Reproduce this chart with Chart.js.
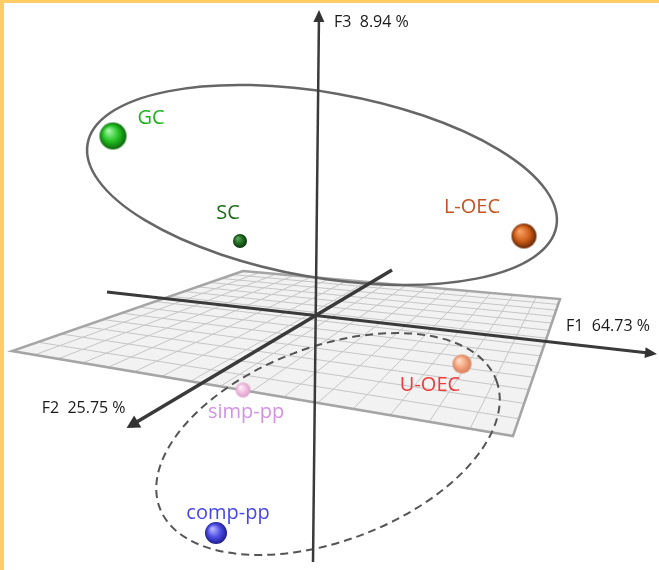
<!DOCTYPE html>
<html>
<head>
<meta charset="utf-8">
<script src="https://cdn.jsdelivr.net/npm/chart.js@4.4.1/dist/chart.umd.min.js"></script>
<style>
  html, body { margin: 0; padding: 0; background: #fff; }
  #wrap { position: relative; width: 659px; height: 570px; }
  #frame { position: absolute; left: 0; top: 0; right: 0; bottom: 0; border-top: 3px solid #ffcc66; border-left: 4px solid #ffcc66; pointer-events: none; }
</style>
</head>
<body>
<div id="wrap">
  <canvas id="acp" width="659" height="570"></canvas>
  <div id="frame"></div>
</div>
<script>
// groups and their coordinates on the projected factor map
const groupes = ['GC', 'SC', 'L-OEC', 'U-OEC', 'simp-pp', 'comp-pp'];
const coordX = [-20.2, -7.5, 20.9, 14.7, -7.2, -9.9];
const coordY = [17.7, 7.2, 7.7, -5.1, -7.7, -22.0];

// factor axes and their share of inertia
const axes = ['F1', 'F2', 'F3'];
const inertie = [64.73, 25.75, 8.94];

// --- drawing geometry / styles ---
const axeDebut = [[-20.8, 2.1], [7.7, 4.3], [-0.2, -24.9]];
const axeFin = [[33.8, -4.05], [-18.5, -11.3], [0.4, 29.9]];
const axeLargeur = [3, 3.5, 2.5];
const plan = [[-7.2, 4.2], [24.5, 1.4], [19.8, -12.3], [-30.3, -3.8]]; // F1-F2 plane corners
const ellipses = [
  { cx: 0.7, cy: 12.8, rx: 23.8, ry: 9.25, rot: 10, dash: [] },
  { cx: 1.3, cy: -13.1, rx: 18.0, ry: 9.7, rot: -20.8, dash: [8, 5] }
];

const raios = [13.5, 7, 12.5, 9.5, 7.5, 11];
const coresEsfera = [
  ['#a8f7a8', '#22c022', '#0b5e0b'],
  ['#5fa55f', '#1f6a1f', '#0b300b'],
  ['#f7a468', '#d2601a', '#5c2204'],
  ['#ffe2ce', '#f3a47c', '#d2785a'],
  ['#fff2f9', '#f2bde0', '#d99cc6'],
  ['#b8b8ff', '#4b4be4', '#1a1a88']
];
const coresTexto = ['#1fb41f', '#1c6b1c', '#c5531e', '#f23a3a', '#d591e8', '#4747e8'];
const deslocTexto = [[38, -18], [-12, -28], [-52, -29], [-32, 21], [3, 22], [12, -20]];

function esfera(r, c) {
  const cv = document.createElement('canvas');
  const s = Math.ceil(2 * r + 2);
  cv.width = s; cv.height = s;
  const g = cv.getContext('2d');
  const m = s / 2;
  const grad = g.createRadialGradient(m - r * 0.35, m - r * 0.4, r * 0.05, m, m, r * 1.05);
  grad.addColorStop(0, c[0]);
  grad.addColorStop(0.55, c[1]);
  grad.addColorStop(1, c[2]);
  g.fillStyle = grad;
  g.beginPath();
  g.arc(m, m, r, 0, Math.PI * 2);
  g.fill();
  return cv;
}

function pix(chart, p) {
  return [chart.scales.x.getPixelForValue(p[0]), chart.scales.y.getPixelForValue(p[1])];
}

// square -> quad projective mapping, so the grid gets perspective spacing
function homografia(q) {
  const [x0, y0] = q[0], [x1, y1] = q[1], [x2, y2] = q[2], [x3, y3] = q[3];
  const dx1 = x1 - x2, dx2 = x3 - x2, dx3 = x0 - x1 + x2 - x3;
  const dy1 = y1 - y2, dy2 = y3 - y2, dy3 = y0 - y1 + y2 - y3;
  const den = dx1 * dy2 - dx2 * dy1;
  const g = (dx3 * dy2 - dx2 * dy3) / den;
  const h = (dx1 * dy3 - dx3 * dy1) / den;
  const a = x1 - x0 + g * x1, b = x3 - x0 + h * x3;
  const d = y1 - y0 + g * y1, e = y3 - y0 + h * y3;
  return (u, v) => {
    const w = g * u + h * v + 1;
    return [(a * u + b * v + x0) / w, (d * u + e * v + y0) / w];
  };
}

const fundo = {
  id: 'fundo',
  beforeDatasetsDraw(chart) {
    const ctx = chart.ctx;
    const q = plan.map(p => pix(chart, p));
    const H = homografia(q);
    ctx.save();
    // plane
    ctx.beginPath();
    q.forEach((p, i) => i ? ctx.lineTo(p[0], p[1]) : ctx.moveTo(p[0], p[1]));
    ctx.closePath();
    ctx.fillStyle = '#f2f2f2';
    ctx.fill();
    ctx.strokeStyle = '#c6c6c6';
    ctx.lineWidth = 1;
    const nc = 16, nl = 14;
    for (let i = 1; i < nc; i++) {
      const a = H(i / nc, 0), b = H(i / nc, 1);
      ctx.beginPath(); ctx.moveTo(a[0], a[1]); ctx.lineTo(b[0], b[1]); ctx.stroke();
    }
    for (let j = 1; j < nl; j++) {
      const a = H(0, j / nl), b = H(1, j / nl);
      ctx.beginPath(); ctx.moveTo(a[0], a[1]); ctx.lineTo(b[0], b[1]); ctx.stroke();
    }
    ctx.beginPath();
    q.forEach((p, i) => i ? ctx.lineTo(p[0], p[1]) : ctx.moveTo(p[0], p[1]));
    ctx.closePath();
    ctx.strokeStyle = '#a5a5a5';
    ctx.lineWidth = 2.5;
    ctx.stroke();

    // group outlines
    const sx = Math.abs(chart.scales.x.getPixelForValue(1) - chart.scales.x.getPixelForValue(0));
    const sy = Math.abs(chart.scales.y.getPixelForValue(1) - chart.scales.y.getPixelForValue(0));
    ellipses.forEach(el => {
      const c = pix(chart, [el.cx, el.cy]);
      ctx.beginPath();
      ctx.ellipse(c[0], c[1], el.rx * sx, el.ry * sy, el.rot * Math.PI / 180, 0, Math.PI * 2);
      ctx.setLineDash(el.dash);
      ctx.strokeStyle = el.dash.length ? '#555' : '#666';
      ctx.lineWidth = el.dash.length ? 2 : 2.5;
      ctx.stroke();
    });
    ctx.setLineDash([]);
    ctx.restore();
  },
  afterDatasetsDraw(chart) {
    const ctx = chart.ctx;
    ctx.save();
    // arrow heads and axis titles
    axes.forEach((nome, k) => {
      const a = pix(chart, axeDebut[k]), b = pix(chart, axeFin[k]);
      const len = Math.hypot(b[0] - a[0], b[1] - a[1]);
      const ux = (b[0] - a[0]) / len, uy = (b[1] - a[1]) / len;
      const tip = [b[0] + ux * 4, b[1] + uy * 4];
      const L = k === 1 ? 13 : 12, W = k === 1 ? 7 : 5.5;
      const bx = tip[0] - ux * L, by = tip[1] - uy * L;
      ctx.beginPath();
      ctx.moveTo(tip[0], tip[1]);
      ctx.lineTo(bx - uy * W, by + ux * W);
      ctx.lineTo(bx + uy * W, by - ux * W);
      ctx.closePath();
      ctx.fillStyle = '#333';
      ctx.fill();

      ctx.font = '16px "Open Sans"';
      ctx.fillStyle = '#1a1a1a';
      ctx.textBaseline = 'middle';
      const txt = nome + '  ' + inertie[k].toFixed(2) + ' %';
      if (k === 0) { ctx.textAlign = 'right'; ctx.fillText(txt, tip[0] - 7, tip[1] - 28); }
      if (k === 1) { ctx.textAlign = 'right'; ctx.fillText(txt, tip[0] - 1, tip[1] - 20); }
      if (k === 2) { ctx.textAlign = 'left'; ctx.fillText(txt, tip[0] + 15, tip[1] + 12); }
    });

    // group names
    const pts = chart.getDatasetMeta(0).data;
    ctx.font = '20px "Open Sans"';
    ctx.textAlign = 'center';
    ctx.textBaseline = 'middle';
    pts.forEach((pt, i) => {
      ctx.fillStyle = coresTexto[i];
      ctx.fillText(groupes[i], pt.x + deslocTexto[i][0], pt.y + deslocTexto[i][1]);
    });
    ctx.restore();
  }
};

const conjuntos = [{
  label: 'groupes',
  data: groupes.map((g, i) => ({ x: coordX[i], y: coordY[i] })),
  pointStyle: raios.map((r, i) => esfera(r, coresEsfera[i])),
  pointRadius: raios,
  clip: false
}];
axes.forEach((nome, k) => {
  conjuntos.push({
    type: 'line',
    label: nome,
    data: [{ x: axeDebut[k][0], y: axeDebut[k][1] }, { x: axeFin[k][0], y: axeFin[k][1] }],
    borderColor: '#3a3a3a',
    borderWidth: axeLargeur[k],
    pointRadius: 0,
    showLine: true,
    fill: false,
    clip: false
  });
});

document.fonts.load('20px "Open Sans"').then(() => {
  new Chart(document.getElementById('acp'), {
    type: 'scatter',
    data: { datasets: conjuntos },
    options: {
      responsive: false,
      animation: false,
      layout: { padding: 0, autoPadding: false },
      plugins: { legend: { display: false }, tooltip: { enabled: false } },
      scales: {
        x: { type: 'linear', min: -31.5, max: 34.4, display: false },
        y: { type: 'linear', min: -25.7, max: 31.3, display: false }
      }
    },
    plugins: [fundo]
  });
});
</script>
</body>
</html>
